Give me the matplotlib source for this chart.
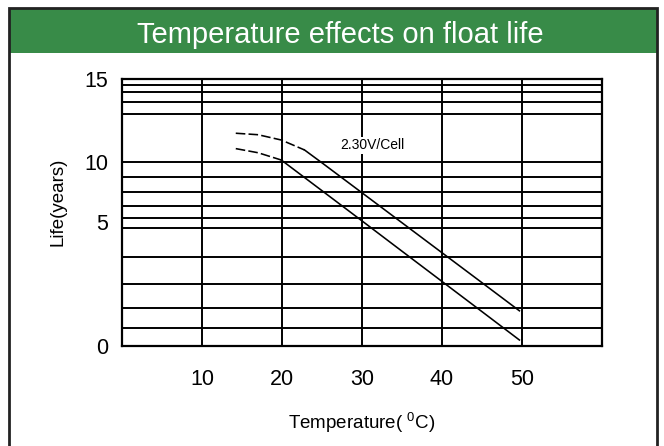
import numpy as np
import matplotlib.pyplot as plt
from matplotlib.patches import Rectangle

plt.rcParams['font.family'] = ['Liberation Sans', 'DejaVu Sans']
plt.rcParams['mathtext.default'] = 'regular'

# data
temp_ticks = [10, 20, 30, 40, 50]
life_ticks = [0, 5, 10, 15]
life_grid = [0.70, 1.54, 2.48, 3.60, 4.75, 5.36, 6.35, 7.51, 8.76, 10.0,
             12.87, 13.60, 14.24, 14.64]

temp_upper_dash = [14.2, 17.0, 19.9, 22.8]
life_upper_dash = [11.72, 11.63, 11.31, 10.71]
temp_upper = [22.8, 25, 30, 35, 40, 45, 49.7]
life_upper = [10.71, 9.90, 7.42, 4.97, 3.76, 2.55, 1.41]

temp_lower_dash = [14.2, 17.0, 19.9]
life_lower_dash = [10.79, 10.54, 10.10]
temp_lower = [19.9, 25, 30, 35, 40, 45, 49.7]
life_lower = [10.10, 7.59, 5.09, 3.82, 2.60, 1.38, 0.23]

# the paper's y axis is not linear: knots in years and their relative heights
scale_years = [0, 5, 10, 15]
scale_pos = [0, 123.7, 184, 266.7]


def fwd(y):
    return np.interp(y, scale_years, scale_pos)


def inv(p):
    return np.interp(p, scale_pos, scale_years)


def main():
    fig = plt.figure(figsize=(6.64, 4.46), dpi=100)

    # header bar and frame
    fig.patches.append(Rectangle((0.0136, 0.8805), 0.9759, 0.1015, transform=fig.transFigure,
                                 facecolor='#388b48', edgecolor='none', zorder=0))
    fig.patches.append(Rectangle((0.0136, -0.05), 0.9759, 1.032, transform=fig.transFigure,
                                 facecolor='none', edgecolor='#222222', lw=2, zorder=1))
    fig.text(0.513, 0.903, "Temperature effects on float life", color='white',
             fontsize=21, ha='center', va='baseline')

    ax = fig.add_axes([0.1842, 0.2249, 0.722, 0.598])
    ax.set_yscale('function', functions=(fwd, inv))
    ax.set_xlim(0, 60)
    ax.set_ylim(0, 15)

    for y in life_grid:
        ax.axhline(y, color='black', lw=1.4, zorder=1)
    for x in temp_ticks:
        ax.axvline(x, color='black', lw=1.4, zorder=1)

    kw = dict(color='black', lw=1.15, zorder=3)
    ax.plot(temp_upper_dash, life_upper_dash, dashes=(6, 2), **kw)
    ax.plot(temp_upper, life_upper, **kw)
    ax.plot(temp_lower_dash, life_lower_dash, dashes=(6, 2), **kw)
    ax.plot(temp_lower, life_lower, **kw)

    ax.text(27.3, 11.0, "2.30V/Cell", fontsize=10, ha='left', va='center', zorder=4,
            bbox=dict(facecolor='white', edgecolor='none', pad=1))

    ax.set_xticks(temp_ticks)
    ax.set_yticks(life_ticks)
    ax.minorticks_off()
    ax.tick_params(axis='both', length=0, labelsize=15.5)
    ax.tick_params(axis='x', pad=17)
    ax.tick_params(axis='y', pad=10)
    for s in ax.spines.values():
        s.set_linewidth(1.6)

    ax.set_xlabel("Temperature( $^0$C)", fontsize=13.5, labelpad=15)
    ax.set_ylabel("Life(years)", fontsize=13.5)
    ax.yaxis.set_label_coords(-0.117, 0.539)

    fig.savefig("out.png", dpi=100)


if __name__ == "__main__":
    main()
